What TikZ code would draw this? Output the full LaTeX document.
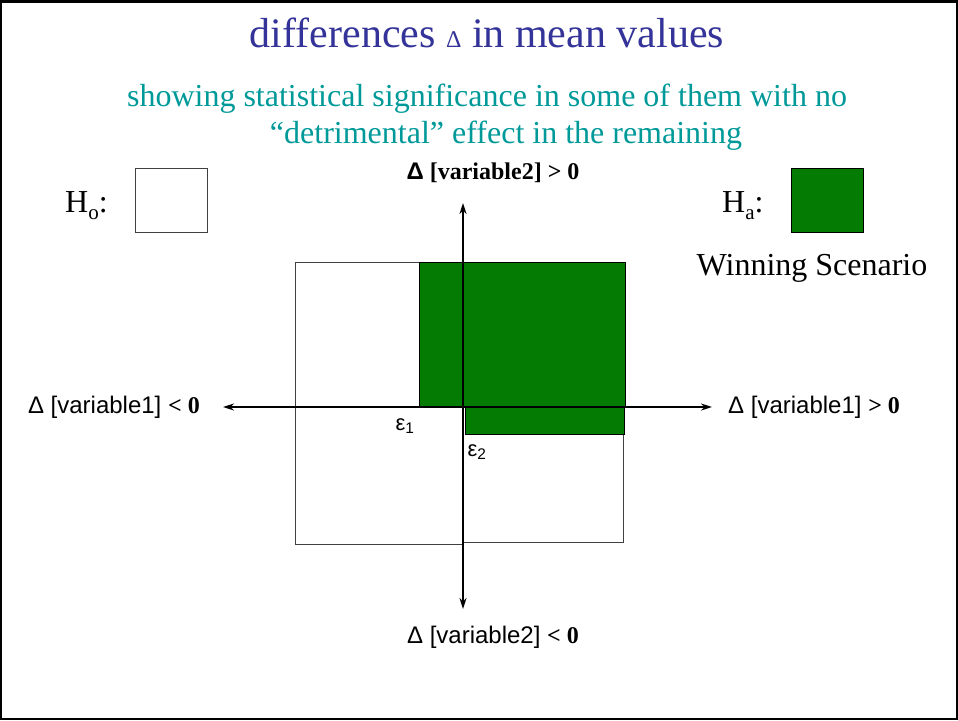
\documentclass[tikz,border=0pt]{standalone}
\usepackage{fontspec}
\setmainfont{Liberation Serif}
\setsansfont{Liberation Sans}
\usetikzlibrary{arrows.meta}
\definecolor{titleblue}{RGB}{51,51,153}
\definecolor{subteal}{RGB}{0,153,153}
\definecolor{wingreen}{RGB}{4,124,4}
\newcommand{\lowsub}[1]{\raisebox{-7pt}{\fontsize{21}{21}\selectfont #1}}

\begin{document}
\begin{tikzpicture}[x=1pt,y=-1pt,
 big/.style={font=\fontsize{32}{36}\selectfont,inner sep=0pt},
 axislabel/.style={font=\sffamily\fontsize{24}{28}\selectfont,inner sep=0pt},
 eps/.style={font=\sffamily\fontsize{22}{26}\selectfont,inner sep=0pt},
 axis/.style={line width=1.8pt,{Stealth[length=11pt,width=7pt]}-{Stealth[length=11pt,width=7pt]}},
 plainbox/.style={draw=black!75,line width=0.8pt,fill=white},
 greenbox/.style={draw=black,line width=0.8pt,fill=wingreen}]
\useasboundingbox (0,0) rectangle (958,720);
\draw[line width=2pt] (1,1) rectangle (957,719);
\draw[line width=3pt] (0,1.5) -- (958,1.5);

\node[font=\fontsize{42}{46}\selectfont,text=titleblue,anchor=base] (title) at (487,47)
 {differences {\fontsize{24}{24}\selectfont Δ} in mean values};
\node[big,text=subteal,anchor=base] (subtitle) at (487,106)
 {showing statistical significance in some of them with no};
\node[big,text=subteal,anchor=base] (subtitle2) at (506,143)
 {“detrimental” effect in the remaining};

\node[big,anchor=base west] (holabel) at (65,212) {H\lowsub{o}:};
\node[plainbox,minimum width=72pt,minimum height=64pt,inner sep=0pt] (hobox) at (171,200) {};
\node[big,anchor=base west] (halabel) at (722,212) {H\lowsub{a}:};
\node[greenbox,minimum width=72pt,minimum height=64pt,inner sep=0pt] (habox) at (827,200) {};
\node[big,anchor=base] (win) at (812,275) {Winning Scenario};

\draw[plainbox] (295,262) rectangle (463,544);
\draw[plainbox] (463,262) rectangle (623,542);
\draw[greenbox] (419,262) rectangle (625,406);
\draw[greenbox] (465,406) rectangle (624,434);

\coordinate (xl) at (223,407);
\coordinate (xr) at (712,407);
\coordinate (yt) at (463,203);
\coordinate (yb) at (463,609);
\draw[axis] (xl) -- (xr);
\draw[axis] (yt) -- (yb);

\node[axislabel,anchor=east] (xneg) at (200,407) {Δ [variable1] {\rmfamily\bfseries < 0}};
\node[axislabel,anchor=west] (xpos) at (728,407) {Δ [variable1] {\rmfamily\bfseries > 0}};
\node[axislabel,font=\bfseries\fontsize{24}{28}\selectfont] (ypos) at (493,173) {{\sffamily Δ} [variable2] > 0};
\node[axislabel] (yneg) at (493,637) {Δ [variable2] {\rmfamily\bfseries < 0}};

\node[eps] (eps1) at (405,426) {ε\textsubscript{1}};
\node[eps] (eps2) at (477,452) {ε\textsubscript{2}};
\end{tikzpicture}
\end{document}
